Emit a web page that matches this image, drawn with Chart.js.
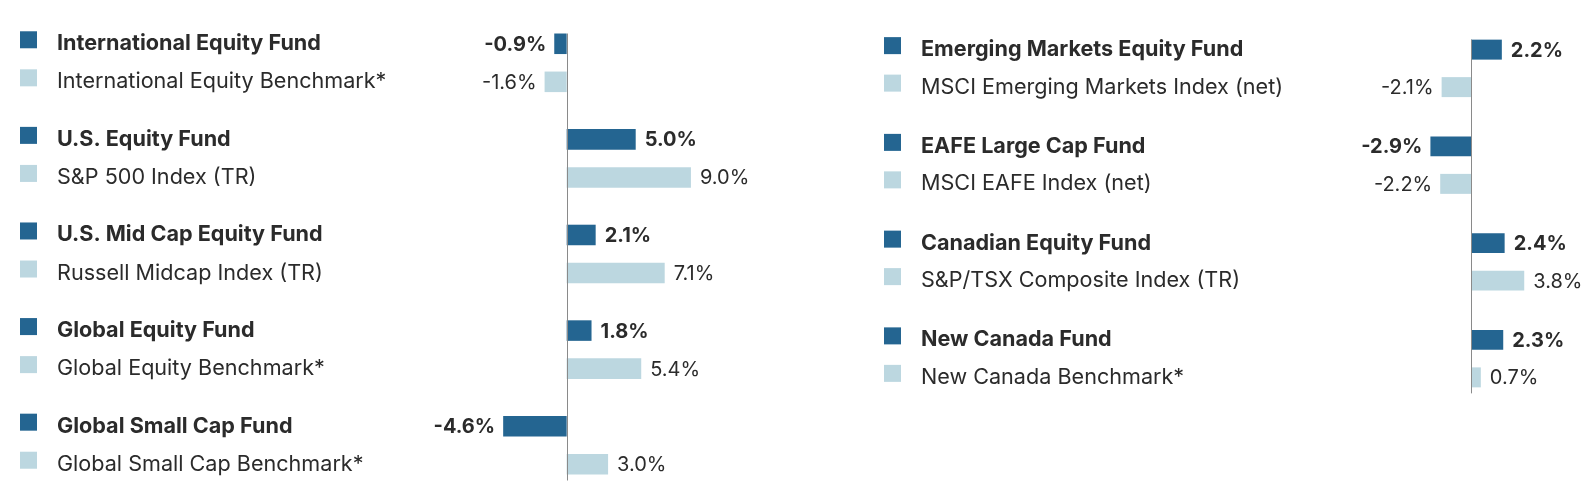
<!DOCTYPE html>
<html>
<head>
<meta charset="utf-8">
<script src="https://cdn.jsdelivr.net/npm/chart.js@4/dist/chart.umd.min.js"></script>
<style>
  body { margin: 0; background: #fff; overflow: hidden; }
  canvas { position: absolute; top: 0; }
  #left-chart { left: 0; }
  #right-chart { left: 800px; }
</style>
</head>
<body>
<canvas id="left-chart" width="800" height="500"></canvas>
<canvas id="right-chart" width="793" height="420"></canvas>
<script>
const leftFunds = ["International Equity Fund", "U.S. Equity Fund", "U.S. Mid Cap Equity Fund", "Global Equity Fund", "Global Small Cap Fund"];
const leftBenchmarks = ["International Equity Benchmark*", "S&P 500 Index (TR)", "Russell Midcap Index (TR)", "Global Equity Benchmark*", "Global Small Cap Benchmark*"];
const leftFundReturns = [-0.9, 5.0, 2.1, 1.8, -4.6];
const leftBenchReturns = [-1.6, 9.0, 7.1, 5.4, 3.0];

const rightFunds = ["Emerging Markets Equity Fund", "EAFE Large Cap Fund", "Canadian Equity Fund", "New Canada Fund"];
const rightBenchmarks = ["MSCI Emerging Markets Index (net)", "MSCI EAFE Index (net)", "S&P/TSX Composite Index (TR)", "New Canada Benchmark*"];
const rightFundReturns = [2.2, -2.9, 2.4, 2.3];
const rightBenchReturns = [-2.1, -2.2, 3.8, 0.7];

const FUND_COLOR = "#246591";
const BENCH_COLOR = "#bcd7e0";
const TEXT_COLOR = "#2b2b2b";
const FONT = "Inter, 'Noto Sans', sans-serif";

// draws the row labels, value labels and the zero line
function labelsPlugin(funds, benchmarks, markerX, textX) {
  return {
    id: "rowLabels",
    afterDatasetsDraw(chart) {
      const ctx = chart.ctx;
      const names = [funds, benchmarks];
      const colors = [FUND_COLOR, BENCH_COLOR];
      let top = Infinity, bottom = -Infinity;
      ctx.save();
      for (let d = 0; d < 2; d++) {
        const meta = chart.getDatasetMeta(d);
        const values = chart.data.datasets[d].data;
        const weight = d === 0 ? "bold" : "normal";
        meta.data.forEach((bar, j) => {
          const y = bar.y;
          top = Math.min(top, y - bar.height / 2);
          bottom = Math.max(bottom, y + bar.height / 2);

          ctx.fillStyle = colors[d];
          ctx.fillRect(markerX, y - 12.5, 17, 17);

          ctx.fillStyle = TEXT_COLOR;
          ctx.font = weight + " 21.6px " + FONT;
          ctx.textBaseline = "middle";
          ctx.textAlign = "left";
          ctx.fillText(names[d][j], textX, y);

          const v = values[j];
          const label = v.toFixed(1) + "%";
          ctx.font = weight + " 20px " + FONT;
          if (v >= 0) {
            ctx.textAlign = "left";
            ctx.fillText(label, bar.x + 9, y + 1);
          } else {
            ctx.textAlign = "right";
            ctx.fillText(label, bar.x - 8, y + 1);
          }
        });
      }
      const zero = chart.scales.x.getPixelForValue(0);
      ctx.strokeStyle = "#8a8a8a";
      ctx.lineWidth = 1;
      ctx.beginPath();
      ctx.moveTo(Math.round(zero) + 0.5, top);
      ctx.lineTo(Math.round(zero) + 0.5, bottom + 6);
      ctx.stroke();
      ctx.restore();
    },
  };
}

function makeChart(canvas, funds, benchmarks, fundData, benchData, opts) {
  return new Chart(canvas, {
    type: "bar",
    data: {
      labels: funds,
      datasets: [
        { data: fundData, backgroundColor: FUND_COLOR },
        { data: benchData, backgroundColor: BENCH_COLOR },
      ],
    },
    options: {
      indexAxis: "y",
      responsive: false,
      animation: false,
      categoryPercentage: opts.catPct,
      barPercentage: opts.barPct,
      layout: { padding: opts.padding },
      plugins: {
        legend: { display: false },
        tooltip: { enabled: false },
      },
      scales: {
        x: { display: false, min: opts.min, max: opts.max },
        y: { display: false },
      },
    },
    plugins: [labelsPlugin(funds, benchmarks, opts.markerX, opts.textX)],
  });
}

makeChart(document.getElementById("left-chart"), leftFunds, leftBenchmarks, leftFundReturns, leftBenchReturns, {
  min: -12,
  max: 16.9,
  padding: { left: 401, right: 0, top: 15, bottom: 7 },
  catPct: 0.796,
  barPct: 0.54,
  markerX: 20,
  textX: 57,
});

makeChart(document.getElementById("right-chart"), rightFunds, rightBenchmarks, rightFundReturns, rightBenchReturns, {
  min: -6,
  max: 8.71,
  padding: { left: 587, right: 0, top: 20, bottom: 13 },
  catPct: 0.775,
  barPct: 0.533,
  markerX: 84,
  textX: 121,
});
</script>
</body>
</html>
